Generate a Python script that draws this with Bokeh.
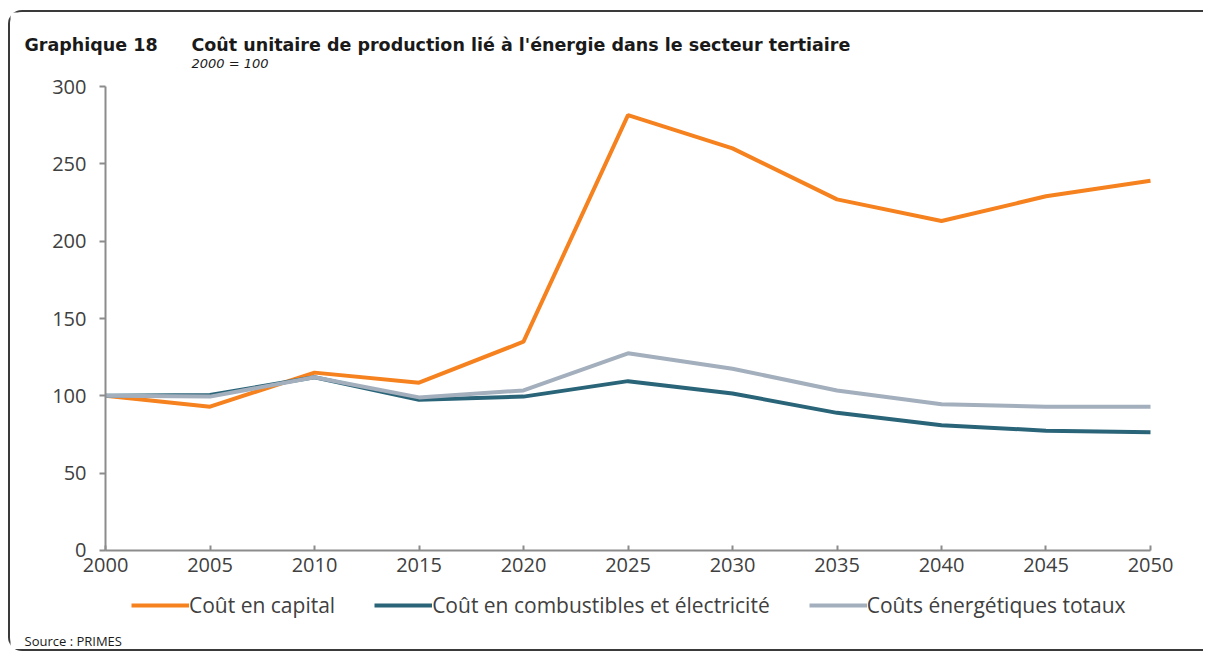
from bokeh.plotting import figure
from bokeh.models import Range1d, FixedTicker, Label, Legend, LegendItem
from bokeh.embed import file_html
from bokeh.resources import INLINE

years = [2000, 2005, 2010, 2015, 2020, 2025, 2030, 2035, 2040, 2045, 2050]
capital = [100, 93, 115, 108.5, 135, 281.5, 260, 227, 213, 229, 239]
combustibles = [100, 100.5, 112, 97.5, 99.5, 109.5, 101.5, 89, 81, 77.5, 76.5]
totaux = [100, 99.5, 112, 99, 103.5, 127.5, 117.5, 103.5, 94.5, 93, 93]
series_names = ["Coût en capital", "Coût en combustibles et électricité", "Coûts énergétiques totaux"]
colors = ["#F5821F", "#2A6478", "#A3AFBD"]
y_ticks = [0, 50, 100, 150, 200, 250, 300]

FONT = "Open Sans"
TFONT = "DejaVu Sans"
W, H = 1195, 641

# The plot frame fills the whole canvas; the axes sit at fixed data positions
# (x axis at y=0, y axis at x=2000) and are bounded to the data extent.
p = figure(width=W, height=H, output_backend="svg", toolbar_location=None,
           x_range=Range1d(1995.4545, 2052.6316), y_range=Range1d(-66.595, 347.845),
           min_border=0)
p.styles = {"margin-left": "8px", "margin-top": "10px",
            "border-left": "2px solid #3a3a3a", "border-top": "2px solid #3a3a3a",
            "border-bottom": "2px solid #3a3a3a", "border-top-left-radius": "14px",
            "border-bottom-left-radius": "14px"}
p.outline_line_color = None
p.xgrid.visible = False
p.ygrid.visible = False

renderers = []
for vals, c in zip([capital, combustibles, totaux], colors):
    r = p.line(years, vals, line_color=c, line_width=4)
    renderers.append(r)

for ax in (p.xaxis[0], p.yaxis[0]):
    ax.axis_line_color = "#8c8c8c"
    ax.axis_line_width = 2
    ax.major_tick_line_color = "#8c8c8c"
    ax.major_tick_line_width = 2
    ax.minor_tick_line_color = None
    ax.major_label_text_color = "#404040"
    ax.major_label_text_font = FONT
    ax.major_label_text_font_size = "20px"

p.xaxis.ticker = FixedTicker(ticks=years)
p.xaxis.bounds = (years[0], years[-1])
p.xaxis.fixed_location = 0
p.xaxis.major_tick_in = 5
p.xaxis.major_tick_out = 0
p.xaxis.major_label_standoff = 8
p.yaxis.ticker = FixedTicker(ticks=y_ticks)
p.yaxis.bounds = (y_ticks[0], y_ticks[-1])
p.yaxis.fixed_location = years[0]
p.yaxis.major_tick_in = 0
p.yaxis.major_tick_out = 6
p.yaxis.major_label_standoff = 13

items = [LegendItem(label=n, renderers=[r]) for n, r in zip(series_names, renderers)]
legend = Legend(items=items, orientation="horizontal", location=(121, 34),
                glyph_width=58, glyph_height=20, label_standoff=0, spacing=39,
                padding=0, margin=0, border_line_color=None, background_fill_alpha=0,
                label_text_font=FONT, label_text_font_size="21px", label_text_color="#404040")
p.add_layout(legend, "center")

def lab(text, x, y, size, style="normal", font=FONT, color="#1a1a1a"):
    p.add_layout(Label(x=x, y=y, x_units="screen", y_units="screen", text=text,
                       text_font=font, text_font_size=size, text_font_style=style,
                       text_color=color, text_baseline="middle", text_align="left"))

# screen positions relative to the canvas bottom-left corner
lab("Graphique 18", 14, 609, "17.5px", "bold", TFONT)
lab("Coût unitaire de production lié à l'énergie dans le secteur tertiaire", 181, 609, "17.5px", "bold", TFONT)
lab("2000 = 100", 181, 590, "13px", "italic", TFONT)
lab("Source : PRIMES", 14, 13, "13px", "normal")

open("out.html", "w").write(file_html(p, INLINE))
